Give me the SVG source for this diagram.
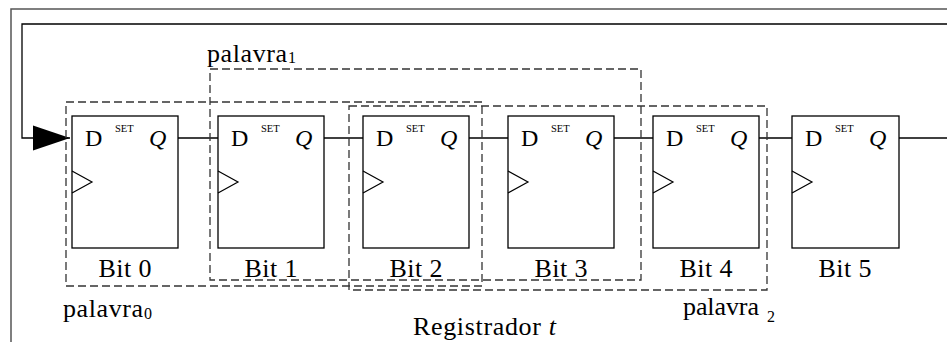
<svg xmlns="http://www.w3.org/2000/svg" width="947" height="342" viewBox="0 0 947 342">
<style>
.bg{fill:#fff}
.frame{fill:none;stroke:#555;stroke-width:1.5}
.ff{fill:#fff;stroke:#000;stroke-width:1.3}
.clk{fill:none;stroke:#000;stroke-width:1.2}
.wire{fill:none;stroke:#000;stroke-width:1.3}
.grp{fill:none;stroke:#333;stroke-width:1.3;stroke-dasharray:8 4}
text{fill:#000;font-family:'Liberation Serif','Times New Roman',Times,'DejaVu Serif',serif}
.pin{font-size:24px}
.q{font-size:24px;font-style:italic}
.set{font-size:10.5px}
.lbl{font-size:26px;text-anchor:middle}
.word{font-size:26px}
.sub{font-size:16px}
</style>
<defs>
<marker id="arr" markerUnits="userSpaceOnUse" markerWidth="38" markerHeight="26" refX="37" refY="12.5" orient="auto" overflow="visible">
<path d="M0,0 L37,12.5 L0,25 Z" fill="#000"/>
</marker>
</defs>
<rect class="bg" x="0" y="0" width="947" height="342"/>
<path class="frame" d="M11,342 V9 H947"/>

<g id="connectors">
<path class="wire" d="M947,24 H22 V138 H70" marker-end="url(#arr)"/>
<path class="wire" d="M178,138 H218"/>
<path class="wire" d="M324,138 H363"/>
<path class="wire" d="M469,138 H508"/>
<path class="wire" d="M614,138 H653"/>
<path class="wire" d="M759,138 H792"/>
<path class="wire" d="M899,138 H947"/>
</g>

<g id="bit0">
<rect class="ff" x="72" y="116" width="106" height="132"/>
<path class="clk" d="M72,171 L92,182 L72,193"/>
<text class="pin" x="85" y="146">D</text>
<text class="set" x="115" y="132">SET</text>
<text class="q" x="149" y="146">Q</text>
<text class="lbl" x="125" y="277" textLength="53">Bit 0</text>
</g>
<g id="bit1">
<rect class="ff" x="218" y="116" width="106" height="132"/>
<path class="clk" d="M218,171 L238,182 L218,193"/>
<text class="pin" x="231" y="146">D</text>
<text class="set" x="261" y="132">SET</text>
<text class="q" x="295" y="146">Q</text>
<text class="lbl" x="271" y="277" textLength="53">Bit 1</text>
</g>
<g id="bit2">
<rect class="ff" x="363" y="116" width="106" height="132"/>
<path class="clk" d="M363,171 L383,182 L363,193"/>
<text class="pin" x="376" y="146">D</text>
<text class="set" x="406" y="132">SET</text>
<text class="q" x="440" y="146">Q</text>
<text class="lbl" x="416" y="277" textLength="53">Bit 2</text>
</g>
<g id="bit3">
<rect class="ff" x="508" y="116" width="106" height="132"/>
<path class="clk" d="M508,171 L528,182 L508,193"/>
<text class="pin" x="521" y="146">D</text>
<text class="set" x="551" y="132">SET</text>
<text class="q" x="585" y="146">Q</text>
<text class="lbl" x="561" y="277" textLength="53">Bit 3</text>
</g>
<g id="bit4">
<rect class="ff" x="653" y="116" width="106" height="132"/>
<path class="clk" d="M653,171 L673,182 L653,193"/>
<text class="pin" x="666" y="146">D</text>
<text class="set" x="696" y="132">SET</text>
<text class="q" x="730" y="146">Q</text>
<text class="lbl" x="706" y="277" textLength="53">Bit 4</text>
</g>
<g id="bit5">
<rect class="ff" x="792" y="116" width="107" height="132"/>
<path class="clk" d="M792,171 L812,182 L792,193"/>
<text class="pin" x="805" y="146">D</text>
<text class="set" x="835" y="132">SET</text>
<text class="q" x="869" y="146">Q</text>
<text class="lbl" x="845" y="277" textLength="53">Bit 5</text>
</g>

<g id="palavra1">
<rect class="grp" x="210" y="69" width="431" height="211"/>
<text class="word" x="207" y="62"><tspan textLength="80">palavra</tspan><tspan class="sub" x="288" dy="1">1</tspan></text>
</g>
<g id="palavra0">
<rect class="grp" x="66" y="102" width="416" height="184"/>
<text class="word" x="63" y="317"><tspan textLength="80">palavra</tspan><tspan class="sub" x="144" dy="2">0</tspan></text>
</g>
<g id="palavra2">
<rect class="grp" x="349" y="106" width="418" height="184"/>
<text class="word" x="683" y="315"><tspan textLength="76">palavra</tspan><tspan class="sub" x="767" dy="7">2</tspan></text>
</g>

<g id="registrador">
<text x="413" y="335" font-size="26" textLength="143">Registrador <tspan font-style="italic">t</tspan></text>
</g>
</svg>
